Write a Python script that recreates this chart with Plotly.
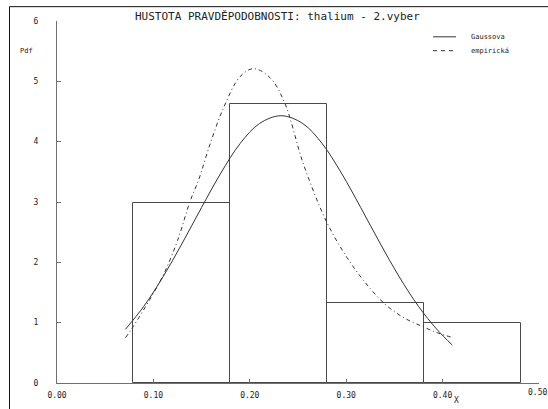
import plotly.graph_objects as go

# Histogram of the sample (bin edges and density heights)
bin_edges = [0.0785, 0.1793, 0.2801, 0.3809, 0.4817]
bin_density = [2.98, 4.63, 1.32, 0.99]

# Fitted normal density (Gaussova)
gauss_x = [0.071, 0.09, 0.11, 0.13, 0.15, 0.17, 0.19, 0.21, 0.2325,
           0.255, 0.275, 0.295, 0.315, 0.335, 0.355, 0.375, 0.394, 0.41]
gauss_y = [0.89, 1.27, 1.76, 2.32, 2.91, 3.48, 3.97, 4.30, 4.43,
           4.30, 3.97, 3.48, 2.91, 2.32, 1.76, 1.27, 0.89, 0.63]

# Empirical (kernel) density
emp_x = [0.071, 0.078, 0.095, 0.11, 0.125, 0.138, 0.147, 0.159, 0.173, 0.19,
         0.204, 0.221, 0.236, 0.256, 0.280, 0.300, 0.320, 0.340, 0.360, 0.380,
         0.395, 0.411]
emp_y = [0.75, 0.91, 1.35, 1.78, 2.36, 3.01, 3.37, 3.97, 4.57, 5.08,
         5.21, 5.06, 4.65, 3.61, 2.66, 2.10, 1.66, 1.31, 1.08, 0.93,
         0.83, 0.75]

x_ticks = [0.0, 0.1, 0.2, 0.3, 0.4, 0.5]
x_ticklabels = ["0.00", "0.10", "0.20", "0.30", "0.40", "0.50"]
y_ticks = [0, 1, 2, 3, 4, 5, 6]

title_text = "HUSTOTA PRAVDĚPODOBNOSTI: thalium - 2.vyber"
legend_labels = ["Gaussova", "empirická"]

W, H = 548, 409
ML, MR, MT, MB = 57, 9, 21, 22
MONO = "DejaVu Sans Mono"
AXIS_COL = "#707070"
INK = "#222222"
TICK_FONT = dict(family=MONO, size=8, color=INK)


def px(xp):
    return (xp - ML) / (W - ML - MR)


def py(yp):
    return 1 - (yp - MT) / (H - MT - MB)


centers = [(a + b) / 2 for a, b in zip(bin_edges[:-1], bin_edges[1:])]
widths = [b - a for a, b in zip(bin_edges[:-1], bin_edges[1:])]

fig = go.Figure()
fig.add_trace(go.Bar(
    x=centers, y=bin_density, width=widths,
    marker=dict(color="rgba(0,0,0,0)", line=dict(color="#4a4a4a", width=1)),
    showlegend=False, hoverinfo="skip",
))
fig.add_trace(go.Scatter(
    x=gauss_x, y=gauss_y, mode="lines",
    line=dict(color="#333333", width=1, shape="spline", smoothing=1.0),
    showlegend=False,
))
fig.add_trace(go.Scatter(
    x=emp_x, y=emp_y, mode="lines",
    line=dict(color="#333333", width=1, shape="spline", smoothing=1.0,
              dash="4px,3px,1px,3px"),
    showlegend=False,
))

shapes = [
    # outer frame
    dict(type="rect", xref="paper", yref="paper",
         x0=px(9.5), x1=px(600), y0=py(460), y1=py(6.5),
         line=dict(color="#111111", width=1), fillcolor="rgba(0,0,0,0)",
         layer="above"),
    # legend samples
    dict(type="line", xref="paper", yref="paper",
         x0=px(433), x1=px(456), y0=py(37), y1=py(37),
         line=dict(color="#333333", width=1)),
    dict(type="line", xref="paper", yref="paper",
         x0=px(433), x1=px(456), y0=py(51), y1=py(51),
         line=dict(color="#333333", width=1, dash="4px,4px")),
]

# the last x tick label sits at the page edge, so it is placed as an annotation
# (anchored to stay inside the page) instead of as a regular tick label
last_label = dict(text=x_ticklabels[-1], xref="x", yref="paper",
                  x=x_ticks[-1], y=py(397), xshift=10,
                  showarrow=False, xanchor="right", yanchor="middle",
                  font=TICK_FONT)
axis_ticktext = x_ticklabels[:-1] + [""]

annotations = [
    dict(text=title_text, xref="paper", yref="paper", x=px(277), y=py(16),
         showarrow=False, xanchor="center", yanchor="middle",
         font=dict(family=MONO, size=11, color=INK)),
    dict(text="Pdf", xref="paper", yref="paper", x=px(26), y=py(51),
         showarrow=False, xanchor="center", yanchor="middle",
         font=dict(family=MONO, size=7, color=INK)),
    dict(text="X", xref="paper", yref="paper", x=px(456), y=py(405),
         showarrow=False, xanchor="center", yanchor="middle",
         font=dict(family=MONO, size=8, color=INK)),
    dict(text=legend_labels[0], xref="paper", yref="paper", x=px(469), y=py(37),
         showarrow=False, xanchor="left", yanchor="middle",
         font=dict(family=MONO, size=7, color=INK)),
    dict(text=legend_labels[1], xref="paper", yref="paper", x=px(469), y=py(51),
         showarrow=False, xanchor="left", yanchor="middle",
         font=dict(family=MONO, size=7, color=INK)),
    last_label,
]

fig.update_layout(
    width=W, height=H,
    margin=dict(l=ML, r=MR, t=MT, b=MB, pad=0),
    paper_bgcolor="white", plot_bgcolor="white",
    shapes=shapes, annotations=annotations,
    bargap=0,
    xaxis=dict(range=[0, 0.5], tickvals=x_ticks, ticktext=axis_ticktext,
               showgrid=False, zeroline=False, showline=True,
               linecolor=AXIS_COL, linewidth=1, ticks="inside", ticklen=4,
               tickcolor=AXIS_COL, ticklabelstandoff=4,
               tickfont=TICK_FONT),
    yaxis=dict(range=[0, 6], tickvals=y_ticks,
               showgrid=False, zeroline=False, showline=True,
               linecolor=AXIS_COL, linewidth=1, ticks="inside", ticklen=4,
               tickcolor=AXIS_COL, ticklabelstandoff=16,
               tickfont=TICK_FONT),
)

fig.write_html("out.html")
